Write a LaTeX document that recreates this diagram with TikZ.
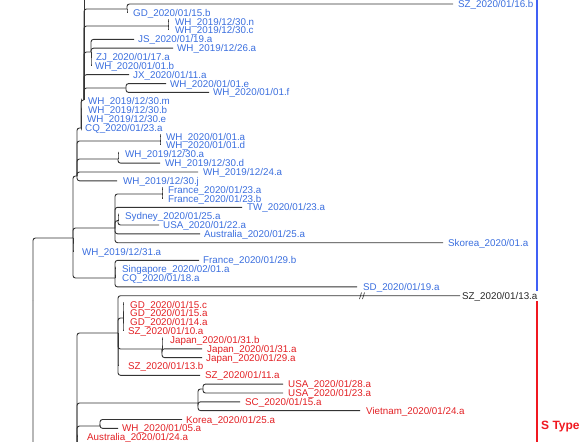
\documentclass[tikz,border=0pt]{standalone}
\usepackage{fontspec}
\setmainfont{Liberation Sans}
\definecolor{lblue}{RGB}{58,110,222}
\definecolor{lred}{RGB}{226,32,36}
\definecolor{barblue}{RGB}{64,96,245}
\definecolor{barred}{RGB}{240,24,32}
\newcommand\lf[7]{\coordinate (t#2) at (#3,#4); \node[#6] (l#2) at (#5,#4) {#7}; \draw[branch] (#1) |- (t#2);}
\begin{document}
\begin{tikzpicture}[x=1pt,y=-1pt,
  branch/.style={draw=black!80, line width=0.9pt, rounded corners=2.5pt},
  lab/.style={anchor=west, inner sep=0pt, font=\fontsize{9.8}{10}\selectfont, text height=7pt, text depth=0pt},
  bl/.style={lab,text=lblue}, rd/.style={lab,text=lred}, blk/.style={lab,text=black!85}]
\useasboundingbox (0,0) rectangle (588,441);
\clip (0,0) rectangle (588,441);
% internal nodes
\coordinate (R) at (33,300);
\coordinate (L) at (73,238);
\coordinate (P3) at (77,176);
\coordinate (P2) at (81,128);
\coordinate (P1) at (84,100);
\coordinate (G) at (127,9);
\coordinate (NC) at (168,26);
\coordinate (JG) at (91,52);
\coordinate (EF) at (126,88);
\coordinate (AD) at (160,141);
\coordinate (AA) at (118,159);
\coordinate (S1) at (115,228);
\coordinate (F) at (162,194);
\coordinate (SU) at (118,220.6);
\coordinate (S2) at (115,278);
\coordinate (RB) at (77,455);
\coordinate (RA) at (118,333);
\coordinate (RG) at (123,318);
\coordinate (J) at (162,349);
\coordinate (V) at (198,403);
\coordinate (U2) at (203,389);
\coordinate (K) at (100,426);
\coordinate (up) at (84,-12);
\draw[branch] (R) |- (L);
\draw[branch] (R) |- (RB);
\draw[branch] (L) |- (P3);
\draw[branch] (L) |- (S1);
\draw[branch] (L) |- (S2);
\draw[branch] (P3) |- (P2);
\draw[branch] (P3) |- (AD);
\draw[branch] (P3) |- (AA);
\draw[branch] (P2) |- (P1);
\draw[branch] (P1) -- (up);
\draw[branch] (P1) |- (G);
\draw[branch] (P1) |- (NC);
\draw[branch] (P1) |- (JG);
\draw[branch] (P1) |- (EF);
\draw[branch] (S1) |- (F);
\draw[branch] (S1) |- (SU);
\draw[branch] (RB) |- (RA);
\draw[branch] (RB) |- (V);
\draw[branch] (RB) |- (K);
\draw[branch] (RA) |- (RG);
\draw[branch] (RA) |- (J);
\draw[branch] (V) |- (U2);
% leaves
\lf{G}{SZ16b}{453}{4}{458}{bl}{SZ\_2020/01/16.b}
\lf{G}{GD15b}{127}{12.8}{133}{bl}{GD\_2020/01/15.b}
\lf{NC}{n}{168}{21.7}{175}{bl}{WH\_2019/12/30.n}
\lf{NC}{c}{168}{30.5}{175}{bl}{WH\_2019/12/30.c}
\lf{JG}{JS}{134}{39.4}{138}{bl}{JS\_2020/01/19.a}
\lf{JG}{d26a}{173}{48.2}{177}{bl}{WH\_2019/12/26.a}
\lf{JG}{ZJ}{91}{57}{96}{bl}{ZJ\_2020/01/17.a}
\lf{JG}{b01}{91}{65.9}{95}{bl}{WH\_2020/01/01.b}
\lf{P1}{JX}{129}{74.7}{133}{bl}{JX\_2020/01/11.a}
\lf{EF}{e01}{166}{83.6}{170}{bl}{WH\_2020/01/01.e}
\lf{EF}{f01}{209}{92.4}{213}{bl}{WH\_2020/01/01.f}
\lf{P2}{m30}{81}{101.2}{88}{bl}{WH\_2019/12/30.m}
\lf{P2}{b30}{81}{110.1}{88}{bl}{WH\_2019/12/30.b}
\lf{P2}{e30}{81}{118.9}{87}{bl}{WH\_2019/12/30.e}
\lf{P2}{CQ23}{81}{127.8}{85}{bl}{CQ\_2020/01/23.a}
\lf{AD}{a01}{160}{136.6}{166}{bl}{WH\_2020/01/01.a}
\lf{AD}{d01}{160}{145.4}{166}{bl}{WH\_2020/01/01.d}
\lf{AA}{a30}{118}{154.3}{125}{bl}{WH\_2019/12/30.a}
\lf{AA}{d30}{160}{163.1}{165}{bl}{WH\_2019/12/30.d}
\lf{P3}{a24}{198}{172}{203}{bl}{WH\_2019/12/24.a}
\lf{P3}{j30}{117}{180.8}{123}{bl}{WH\_2019/12/30.j}
\lf{F}{Fra}{162}{189.6}{168}{bl}{France\_2020/01/23.a}
\lf{F}{Frb}{162}{198.5}{168}{bl}{France\_2020/01/23.b}
\lf{S1}{TW}{242}{207.3}{247}{bl}{TW\_2020/01/23.a}
\lf{SU}{Syd}{118}{216.2}{125}{bl}{Sydney\_2020/01/25.a}
\lf{SU}{USA22}{159}{225}{163}{bl}{USA\_2020/01/22.a}
\lf{S1}{Aus25}{200}{233.8}{204}{bl}{Australia\_2020/01/25.a}
\lf{S1}{Skorea}{443}{242.7}{448}{bl}{Skorea\_2020/01.a}
\lf{L}{a31}{73}{251.5}{82}{bl}{WH\_2019/12/31.a}
\lf{S2}{Fr29b}{199}{260.4}{203}{bl}{France\_2020/01/29.b}
\lf{S2}{Sing}{115}{269.2}{122}{bl}{Singapore\_2020/02/01.a}
\lf{S2}{CQ18}{115}{278}{122}{bl}{CQ\_2020/01/18.a}
\lf{S2}{SD}{357}{286.9}{363}{bl}{SD\_2020/01/19.a}
\lf{RA}{SZ13a}{460}{295.7}{462}{blk}{SZ\_2020/01/13.a}
\lf{RG}{GD15c}{123}{304.6}{130}{rd}{GD\_2020/01/15.c}
\lf{RG}{GD15a}{123}{313.4}{130}{rd}{GD\_2020/01/15.a}
\lf{RG}{GD14a}{123}{322.2}{130}{rd}{GD\_2020/01/14.a}
\lf{RG}{SZ10a}{123}{331.1}{128}{rd}{SZ\_2020/01/10.a}
\lf{J}{Jp31b}{162}{339.9}{170}{rd}{Japan\_2020/01/31.b}
\lf{J}{Jp31a}{202}{348.8}{207}{rd}{Japan\_2020/01/31.a}
\lf{J}{Jp29a}{202}{357.6}{206}{rd}{Japan\_2020/01/29.a}
\lf{RA}{SZ13b}{118}{366.4}{128}{rd}{SZ\_2020/01/13.b}
\lf{RA}{SZ11a}{200}{375.3}{205}{rd}{SZ\_2020/01/11.a}
\lf{U2}{USA28}{283}{384.1}{288}{rd}{USA\_2020/01/28.a}
\lf{U2}{USA23}{283}{393}{288}{rd}{USA\_2020/01/23.a}
\lf{V}{SC}{240}{401.8}{245}{rd}{SC\_2020/01/15.a}
\lf{V}{Viet}{360}{410.6}{366}{rd}{Vietnam\_2020/01/24.a}
\lf{K}{Korea}{182}{419.5}{186}{rd}{Korea\_2020/01/25.a}
\lf{K}{WH05}{118}{428.3}{122}{rd}{WH\_2020/01/05.a}
\lf{RB}{Aus24}{77}{437.2}{87}{rd}{Australia\_2020/01/24.a}
% break mark on long branch
\draw[black!85, line width=0.6pt] (359.5,299) -- (361.5,292.5) (362.5,299) -- (364.5,292.5);
% clade bars
\draw[barblue, line width=2pt] (537,-5) -- (537,291);
\draw[barred, line width=2pt] (537,301) -- (537,446);
\node[anchor=west, inner sep=0pt, text=barred, font=\fontsize{12}{12}\selectfont\bfseries] (stype) at (541,427) {S Type};
\end{tikzpicture}
\end{document}
